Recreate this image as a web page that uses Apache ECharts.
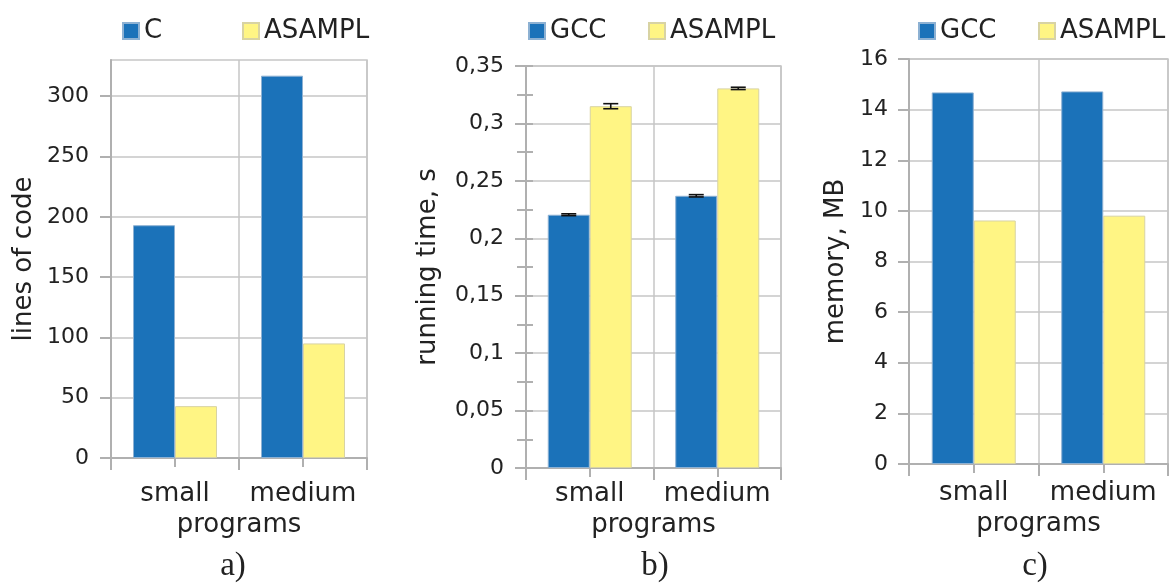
<!DOCTYPE html>
<html>
<head>
<meta charset="utf-8">
<script src="https://cdn.jsdelivr.net/npm/echarts@6/dist/echarts.min.js"></script>
<style>
html,body{margin:0;padding:0;background:#fff;}
#chart{width:1172px;height:585px;}
</style>
</head>
<body>
<div id="chart"></div>
<script>
// ---- data ----
const categories = ['small', 'medium'];
const locC = [193, 317];
const locASAMPL = [43, 95];
const timeGCC = [0.2205, 0.237];
const timeASAMPL = [0.315, 0.3305];
const timeErrGCC = [0.0008, 0.001];
const timeErrASAMPL = [0.0022, 0.001];
const memGCC = [14.68, 14.72];
const memASAMPL = [9.62, 9.81];
const locTicks = [0, 50, 100, 150, 200, 250, 300];
const panelLabels = ['a)', 'b)', 'c)'];

// ---- style ----
const BLUE = '#1b72b9';
const YELLOW = '#fff584';
const FONT = 'DejaVu Sans';
const TXT = '#222';
const GRID = '#c6c6c6';
const AX = '#b0b0b0';
const BW = 42;

const chart = echarts.init(document.getElementById('chart'), null, {renderer: 'canvas'});

const grids = [
  {left: 111, top: 60, width: 256, height: 398},
  {left: 526, top: 66, width: 255, height: 402},
  {left: 909, top: 59, width: 259, height: 405}
].map(g => Object.assign(g, {show: true, borderColor: GRID, borderWidth: 1.5, containLabel: false}));

function xMain(gi, margin, nameGap) {
  return {
    type: 'category', gridIndex: gi, data: categories, position: 'bottom',
    name: 'programs', nameLocation: 'middle', nameGap: nameGap,
    nameTextStyle: {fontFamily: FONT, fontSize: 26, color: TXT},
    axisLine: {lineStyle: {color: AX, width: 2}},
    axisTick: {show: true, interval: 0, length: 12, lineStyle: {color: AX, width: 2}},
    axisLabel: {interval: 0, fontFamily: FONT, fontSize: 26, color: TXT, margin: margin},
    splitLine: {show: true, interval: 0, lineStyle: {color: GRID, width: 1.5}}
  };
}
function xSub(gi) {
  return {
    type: 'category', gridIndex: gi, data: categories, position: 'bottom',
    axisLine: {show: false},
    axisTick: {show: true, interval: 0, alignWithLabel: true, length: 9, lineStyle: {color: AX, width: 2}},
    axisLabel: {show: false}, splitLine: {show: false}
  };
}
function yMain(gi, name, nameGap, min, max, interval, extra) {
  return Object.assign({
    type: 'value', gridIndex: gi, min: min, max: max, interval: interval,
    name: name, nameLocation: 'middle', nameGap: nameGap,
    nameTextStyle: {fontFamily: FONT, fontSize: 26, color: TXT},
    axisLine: {show: true, lineStyle: {color: AX, width: 2}},
    axisTick: {show: true, length: 11, lineStyle: {color: AX, width: 2}},
    axisLabel: {fontFamily: FONT, fontSize: 22, color: TXT, margin: 22},
    splitLine: {show: true, lineStyle: {color: GRID, width: 1.5}}
  }, extra || {});
}

const commaFmt = v => String(+(+v).toFixed(3)).replace('.', ',');

const xAxis = [xMain(0, 23, 53), xSub(0), xMain(1, 13, 42), xSub(1), xMain(2, 16, 45), xSub(2)];
const yAxis = [
  yMain(0, 'lines of code', 74, 0, 330, 50, {
    axisTick: {show: true, length: 11, customValues: locTicks, lineStyle: {color: AX, width: 2}},
    axisLabel: {fontFamily: FONT, fontSize: 22, color: TXT, margin: 22, customValues: locTicks}
  }),
  yMain(1, 'running time, s', 85, 0, 0.35, 0.05, {
    axisLabel: {fontFamily: FONT, fontSize: 22, color: TXT, margin: 22, formatter: commaFmt},
    minorTick: {show: true, splitNumber: 2, length: 9, lineStyle: {color: AX, width: 2}}
  }),
  // inner half of minor ticks on panel b
  {
    type: 'value', gridIndex: 1, min: 0, max: 0.35, interval: 0.025, position: 'left',
    axisLine: {show: false}, axisLabel: {show: false}, splitLine: {show: false},
    axisTick: {show: true, inside: true, length: 7, lineStyle: {color: AX, width: 2}}
  },
  yMain(2, 'memory, MB', 60, 0, 16, 2, {
    axisLabel: {fontFamily: FONT, fontSize: 22, color: TXT, margin: 21}
  })
];

const barStyle = (c, b) => ({color: c, borderColor: b, borderWidth: 1});
function bar(name, data, xi, yi, color, border) {
  return {
    type: 'bar', name: name, data: data, xAxisIndex: xi, yAxisIndex: yi,
    barWidth: BW, barGap: '0%', itemStyle: barStyle(color, border),
    emphasis: {disabled: true}, silent: true
  };
}
function errSeries(values, errs, sign) {
  return {
    type: 'custom', xAxisIndex: 2, yAxisIndex: 1, z: 10, silent: true,
    data: values.map((v, i) => [i, v, errs[i]]),
    encode: {x: 0, y: 1},
    renderItem: function (params, api) {
      const i = api.value(0), v = api.value(1), e = api.value(2);
      const t = api.coord([i, v + e]);
      const b = api.coord([i, v - e]);
      const x = t[0] + sign * BW / 2;
      const hw = 7.5;
      const st = {stroke: '#111', lineWidth: 1.6};
      return {
        type: 'group',
        children: [
          {type: 'line', shape: {x1: x, y1: t[1], x2: x, y2: b[1]}, style: st},
          {type: 'line', shape: {x1: x - hw, y1: t[1], x2: x + hw, y2: t[1]}, style: st},
          {type: 'line', shape: {x1: x - hw, y1: b[1], x2: x + hw, y2: b[1]}, style: st}
        ]
      };
    }
  };
}

const blueBorder = '#8db1d3';
const yellowBorder = '#d8d3a3';

const series = [
  bar('C', locC, 0, 0, BLUE, blueBorder),
  bar('ASAMPL', locASAMPL, 0, 0, YELLOW, yellowBorder),
  bar('GCC', timeGCC, 2, 1, BLUE, blueBorder),
  bar('ASAMPL', timeASAMPL, 2, 1, YELLOW, yellowBorder),
  bar('GCC', memGCC, 4, 3, BLUE, blueBorder),
  bar('ASAMPL', memASAMPL, 4, 3, YELLOW, yellowBorder),
  errSeries(timeGCC, timeErrGCC, -1),
  errSeries(timeASAMPL, timeErrASAMPL, 1)
];

function lg(name, left) {
  return {
    data: [name], left: left, top: 13, itemWidth: 16, itemHeight: 16, icon: 'rect',
    selectedMode: false,
    textStyle: {fontFamily: FONT, fontSize: 26, color: TXT}
  };
}
const legend = [lg('C', 117), lg('ASAMPL', 237), lg('GCC', 523), lg('ASAMPL', 643), lg('GCC', 913), lg('ASAMPL', 1033)];

const labelX = [233, 655, 1035];
const graphic = panelLabels.map((t, i) => ({
  type: 'text', x: labelX[i], y: 566,
  style: {text: t, font: '33px "Liberation Serif"', fill: TXT, textAlign: 'center', textVerticalAlign: 'middle'}
}));

chart.setOption({
  animation: false,
  backgroundColor: '#fff',
  grid: grids, xAxis: xAxis, yAxis: yAxis, series: series, legend: legend, graphic: graphic
});
</script>
</body>
</html>
